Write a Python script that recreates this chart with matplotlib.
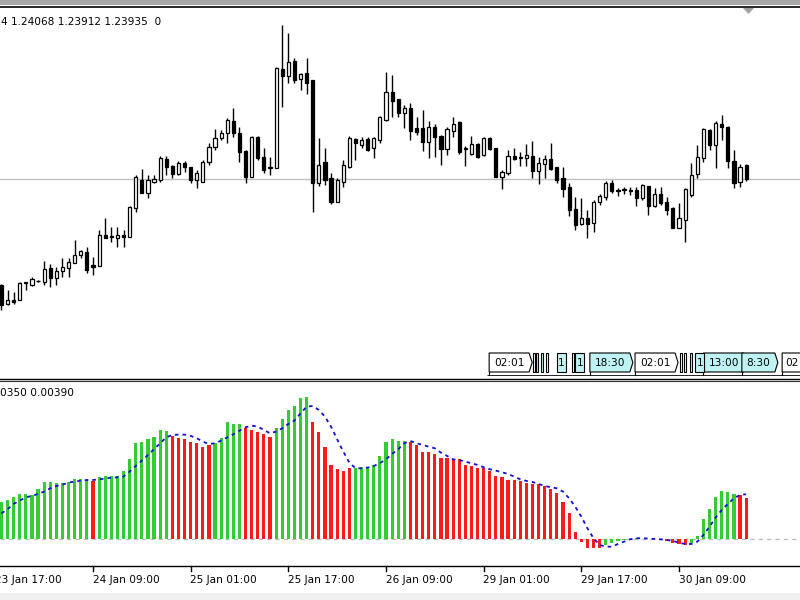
import matplotlib
matplotlib.use("Agg")
import matplotlib.pyplot as plt
from matplotlib.patches import Rectangle, Polygon
from matplotlib.transforms import blended_transform_factory
from matplotlib.lines import Line2D

# ---------------- data (H1 candles) ----------------
opens = [1.2288, 1.2269, 1.2273, 1.2273, 1.2290, 1.2288, 1.2292, 1.2291, 1.2305, 1.2295,
         1.2302, 1.2305, 1.2310, 1.2318, 1.2321, 1.2308, 1.2307, 1.2338, 1.2337, 1.2335,
         1.2338, 1.2336, 1.2365, 1.2393, 1.2380, 1.2391, 1.2393, 1.2414, 1.2407, 1.2399,
         1.2410, 1.2406, 1.2393, 1.2391, 1.2411, 1.2426, 1.2435, 1.2440, 1.2452, 1.2440,
         1.2422, 1.2396, 1.2436, 1.2416, 1.2406, 1.2405, 1.2504, 1.2497, 1.2512, 1.2494,
         1.2500, 1.2493, 1.2390, 1.2411, 1.2395, 1.2371, 1.2391, 1.2406, 1.2434, 1.2428,
         1.2434, 1.2425, 1.2433, 1.2453, 1.2481, 1.2474, 1.2460, 1.2465, 1.2445, 1.2445,
         1.2431, 1.2446, 1.2437, 1.2424, 1.2442, 1.2451, 1.2424, 1.2419, 1.2429, 1.2418,
         1.2435, 1.2425, 1.2396, 1.2400, 1.2417, 1.2416, 1.2415, 1.2417, 1.2402, 1.2409,
         1.2414, 1.2406, 1.2395, 1.2386, 1.2364, 1.2349, 1.2355, 1.2350, 1.2371, 1.2376,
         1.2390, 1.2383, 1.2383, 1.2383, 1.2383, 1.2375, 1.2387, 1.2367, 1.2379, 1.2371,
         1.2365, 1.2345, 1.2353, 1.2378, 1.2399, 1.2415, 1.2443, 1.2428, 1.2449, 1.2446,
         1.2412, 1.2391, 1.2408]
highs = [1.2289, 1.2283, 1.2281, 1.2291, 1.2291, 1.2296, 1.2293, 1.2312, 1.2309, 1.2306,
         1.2315, 1.2315, 1.2333, 1.2323, 1.2326, 1.2316, 1.2343, 1.2355, 1.2346, 1.2346,
         1.2343, 1.2367, 1.2398, 1.2404, 1.2398, 1.2398, 1.2417, 1.2417, 1.2408, 1.2412,
         1.2412, 1.2406, 1.2403, 1.2413, 1.2430, 1.2444, 1.2443, 1.2455, 1.2465, 1.2446,
         1.2423, 1.2437, 1.2437, 1.2425, 1.2416, 1.2506, 1.2548, 1.2540, 1.2515, 1.2500,
         1.2515, 1.2493, 1.2435, 1.2425, 1.2400, 1.2395, 1.2413, 1.2437, 1.2435, 1.2436,
         1.2436, 1.2436, 1.2457, 1.2501, 1.2498, 1.2474, 1.2468, 1.2470, 1.2456, 1.2463,
         1.2452, 1.2449, 1.2438, 1.2446, 1.2456, 1.2452, 1.2427, 1.2437, 1.2430, 1.2436,
         1.2436, 1.2425, 1.2403, 1.2423, 1.2425, 1.2421, 1.2429, 1.2432, 1.2416, 1.2418,
         1.2430, 1.2406, 1.2406, 1.2390, 1.2376, 1.2375, 1.2363, 1.2373, 1.2379, 1.2392,
         1.2393, 1.2385, 1.2386, 1.2386, 1.2386, 1.2389, 1.2387, 1.2385, 1.2386, 1.2376,
         1.2366, 1.2370, 1.2385, 1.2410, 1.2428, 1.2445, 1.2444, 1.2452, 1.2458, 1.2447,
         1.2423, 1.2409, 1.2409]
lows = [1.2263, 1.2268, 1.2269, 1.2273, 1.2283, 1.2287, 1.2291, 1.2288, 1.2286, 1.2288,
        1.2296, 1.2296, 1.2310, 1.2315, 1.2300, 1.2298, 1.2307, 1.2335, 1.2331, 1.2326,
        1.2326, 1.2336, 1.2361, 1.2380, 1.2375, 1.2390, 1.2391, 1.2398, 1.2395, 1.2398,
        1.2401, 1.2390, 1.2385, 1.2391, 1.2408, 1.2423, 1.2433, 1.2430, 1.2436, 1.2411,
        1.2390, 1.2396, 1.2413, 1.2400, 1.2398, 1.2405, 1.2466, 1.2490, 1.2490, 1.2483,
        1.2479, 1.2361, 1.2387, 1.2388, 1.2369, 1.2371, 1.2386, 1.2405, 1.2413, 1.2425,
        1.2422, 1.2415, 1.2430, 1.2452, 1.2456, 1.2456, 1.2445, 1.2433, 1.2438, 1.2422,
        1.2415, 1.2416, 1.2408, 1.2418, 1.2436, 1.2419, 1.2407, 1.2418, 1.2415, 1.2417,
        1.2423, 1.2396, 1.2384, 1.2398, 1.2413, 1.2407, 1.2407, 1.2395, 1.2389, 1.2395,
        1.2403, 1.2390, 1.2376, 1.2357, 1.2343, 1.2348, 1.2335, 1.2341, 1.2368, 1.2373,
        1.2380, 1.2377, 1.2379, 1.2378, 1.2367, 1.2373, 1.2358, 1.2366, 1.2368, 1.2358,
        1.2345, 1.2345, 1.2331, 1.2376, 1.2395, 1.2411, 1.2423, 1.2405, 1.2433, 1.2405,
        1.2385, 1.2386, 1.2392]
closes = [1.2268, 1.2273, 1.2271, 1.2290, 1.2291, 1.2294, 1.2292, 1.2304, 1.2295, 1.2302,
          1.2306, 1.2311, 1.2318, 1.2322, 1.2303, 1.2306, 1.2338, 1.2335, 1.2336, 1.2338,
          1.2336, 1.2366, 1.2396, 1.2380, 1.2393, 1.2394, 1.2415, 1.2406, 1.2399, 1.2410,
          1.2406, 1.2393, 1.2400, 1.2411, 1.2426, 1.2435, 1.2440, 1.2453, 1.2440, 1.2421,
          1.2396, 1.2436, 1.2415, 1.2403, 1.2405, 1.2505, 1.2497, 1.2511, 1.2493, 1.2499,
          1.2490, 1.2390, 1.2408, 1.2393, 1.2371, 1.2393, 1.2408, 1.2435, 1.2430, 1.2433,
          1.2423, 1.2435, 1.2456, 1.2481, 1.2472, 1.2460, 1.2465, 1.2442, 1.2441, 1.2431,
          1.2446, 1.2436, 1.2424, 1.2444, 1.2449, 1.2421, 1.2425, 1.2429, 1.2416, 1.2435,
          1.2424, 1.2396, 1.2401, 1.2417, 1.2414, 1.2415, 1.2418, 1.2402, 1.2410, 1.2414,
          1.2404, 1.2393, 1.2384, 1.2363, 1.2348, 1.2355, 1.2349, 1.2371, 1.2377, 1.2390,
          1.2382, 1.2382, 1.2384, 1.2382, 1.2375, 1.2388, 1.2367, 1.2379, 1.2370, 1.2363,
          1.2345, 1.2355, 1.2384, 1.2398, 1.2416, 1.2444, 1.2428, 1.2450, 1.2446, 1.2412,
          1.2390, 1.2406, 1.2394]

# ---------------- indicator ----------------
hist = [0.00322, 0.00336, 0.00365, 0.00388, 0.00388, 0.00379, 0.00428, 0.00493, 0.00493, 0.00479,
        0.00479, 0.00493, 0.00519, 0.00513, 0.00507, 0.00502, 0.00530, 0.00544, 0.00544, 0.00542,
        0.00584, 0.00687, 0.00821, 0.00829, 0.00855, 0.00872, 0.00935, 0.00926, 0.00884, 0.00869,
        0.00858, 0.00832, 0.00821, 0.00792, 0.00807, 0.00827, 0.00869, 0.01000, 0.00986, 0.00986,
        0.00949, 0.00935, 0.00921, 0.00901, 0.00872, 0.00949, 0.01026, 0.01106, 0.01143, 0.01206,
        0.01220, 0.01003, 0.00921, 0.00792, 0.00636, 0.00599, 0.00587, 0.00613, 0.00607, 0.00621,
        0.00616, 0.00636, 0.00713, 0.00829, 0.00858, 0.00844, 0.00841, 0.00835, 0.00807, 0.00744,
        0.00744, 0.00730, 0.00693, 0.00693, 0.00678, 0.00684, 0.00636, 0.00627, 0.00613, 0.00613,
        0.00587, 0.00544, 0.00530, 0.00507, 0.00507, 0.00499, 0.00479, 0.00470, 0.00470, 0.00456,
        0.00428, 0.00393, 0.00322, 0.00222, 0.00066, -0.00023, -0.00077, -0.00077, -0.00077, -0.00048,
        -0.00029, -0.00011, -0.00006, 0.00006, 0.00009, 0.00006, 0.00003, 0.00000, -0.00003, -0.00011,
        -0.00034, -0.00040, -0.00048, -0.00029, 0.00029, 0.00171, 0.00259, 0.00365, 0.00416, 0.00402,
        0.00388, 0.00379, 0.00351]
hist_color_codes = ("GGGGGGGGGGGGGGG" "R" "GGGGGGGGGGGG" "RRRRRRR" "GGGGG" "RRRRR" "GGGGGG"
                    "RRRRRRR" "GGGGGGGGG" "RRRRRRRRRRRRRRRRRRRRRRRRRRRRRRRR" "GGGGGG"
                    "RRRRRRRR" "GGGGGGGG" "RR")
signal = [0.00222, 0.00257, 0.00302, 0.00331, 0.00359, 0.00371, 0.00388, 0.00408, 0.00436, 0.00456,
          0.00467, 0.00485, 0.00493, 0.00502, 0.00507, 0.00507, 0.00513, 0.00519, 0.00527, 0.00530,
          0.00536, 0.00579, 0.00627, 0.00673, 0.00721, 0.00770, 0.00821, 0.00872, 0.00892, 0.00895,
          0.00895, 0.00884, 0.00864, 0.00835, 0.00815, 0.00821, 0.00844, 0.00872, 0.00898, 0.00929,
          0.00958, 0.00972, 0.00963, 0.00935, 0.00906, 0.00921, 0.00949, 0.00986, 0.01015, 0.01077,
          0.01134, 0.01140, 0.01106, 0.01049, 0.00963, 0.00855, 0.00750, 0.00656, 0.00607, 0.00607,
          0.00613, 0.00627, 0.00650, 0.00684, 0.00730, 0.00770, 0.00821, 0.00841, 0.00821, 0.00807,
          0.00792, 0.00778, 0.00741, 0.00713, 0.00684, 0.00678, 0.00664, 0.00650, 0.00636, 0.00616,
          0.00599, 0.00587, 0.00573, 0.00559, 0.00536, 0.00513, 0.00499, 0.00490, 0.00473, 0.00456,
          0.00445, 0.00436, 0.00408, 0.00351, 0.00279, 0.00194, 0.00094, 0.00009, -0.00048, -0.00063,
          -0.00063, -0.00040, -0.00020, 0.00000, 0.00009, 0.00009, 0.00006, 0.00003, 0.00000, -0.00006,
          -0.00014, -0.00029, -0.00040, -0.00040, -0.00020, 0.00037, 0.00108, 0.00185, 0.00251, 0.00302,
          0.00351, 0.00379, 0.00385]

# time axis labels (bar index of each label)
tick_idx = [-1, 15, 31, 47, 63, 79, 95, 111]
tick_labels = ["23 Jan 17:00", "24 Jan 09:00", "25 Jan 01:00", "25 Jan 17:00",
               "26 Jan 09:00", "29 Jan 01:00", "29 Jan 17:00", "30 Jan 09:00"]

# calendar event markers (bar index, text, highlighted)
ev_idx = [79.9, 96.4, 103.8, 115.0, 121.3, 127.9]
ev_text = ["02:01", "18:30", "02:01", "13:00", "8:30", "02"]
ev_hl = [False, True, False, True, True, False]
ev_small_idx = [87.1, 87.6, 88.4, 89.2, 91.0, 93.5, 94.0, 111.2, 111.8, 112.8, 113.7]
ev_small_text = ["", "", "", "", "1", "", "1", "", "", "", "1"]
ev_small_hl = [False, True, True, False, True, False, True, False, False, True, True]

header_top = "4 1.24068 1.23912 1.23935  0"
header_bottom = "0350 0.00390"

# ---------------- figure ----------------
W, H = 800, 600
fig = plt.figure(figsize=(8, 6), dpi=100)
fig.patch.set_facecolor("white")
FONT = "DejaVu Sans"
FS = 7.6

BAR_PX = 6.104
X0_PX = 1.44
xlim = (-X0_PX / BAR_PX, (W - X0_PX) / BAR_PX)

def fy(ypx):
    return 1 - ypx / H

# top (price) panel
top_y0, top_y1 = 7, 379
ax1 = fig.add_axes([0, fy(top_y1), 1, (top_y1 - top_y0) / H])
# bottom (indicator) panel
bot_y0, bot_y1 = 381, 566
ax2 = fig.add_axes([0, fy(bot_y1), 1, (bot_y1 - bot_y0) / H])

for ax in (ax1, ax2):
    ax.set_xlim(*xlim)
    ax.set_xticks([])
    ax.set_yticks([])
    for s in ("left", "right", "top"):
        ax.spines[s].set_visible(False)
    ax.spines["bottom"].set_color("black")
    ax.spines["bottom"].set_linewidth(1.0)
    ax.set_facecolor("white")
ax2.spines["top"].set_visible(True)
ax2.spines["top"].set_color("#303030")

# price scale: 1 px ~ 0.0001
ax1.set_ylim(1.2573 - top_y1 * 0.0001, 1.2573 - top_y0 * 0.0001)

n = len(closes)
idx = list(range(n))

# bid line
ax1.axhline(closes[-1], color="#C0C0C0", lw=1.0, zorder=1)

# candles
ax1.vlines(idx, lows, highs, color="black", lw=1.0, zorder=2)
bw = 0.52
for i in idx:
    o, c = opens[i], closes[i]
    lo, hi = min(o, c), max(o, c)
    if abs(c - o) < 1e-9:
        ax1.hlines(o, i - bw / 2, i + bw / 2, color="black", lw=1.0, zorder=3)
        continue
    face = "white" if c > o else "black"
    ax1.add_patch(Rectangle((i - bw / 2, lo), bw, hi - lo, facecolor=face,
                            edgecolor="black", lw=0.9, zorder=3))

# event markers along the bottom of the price panel
tr = blended_transform_factory(ax1.transData, ax1.transAxes)
panel_h = top_y1 - top_y0
yb = (top_y1 - 372) / panel_h
yt = (top_y1 - 353) / panel_h
ybase = (top_y1 - 375) / panel_h
cyan = "#BFF3F3"
for x, t, hl in zip(ev_idx, ev_text, ev_hl):
    wpx = 7.0 * len(t) + 5
    w = wpx / BAR_PX
    tip = 3.0 / BAR_PX
    poly = Polygon([(x, yb), (x, yt), (x + w, yt), (x + w + tip, (yb + yt) / 2), (x + w, yb)],
                   closed=True, transform=tr, facecolor=cyan if hl else "white",
                   edgecolor="black", lw=0.8, zorder=5, clip_on=False)
    ax1.add_patch(poly)
    ax1.add_line(Line2D([x, x], [ybase, yb], transform=tr, color="black", lw=0.8, zorder=5))
    ax1.text(x + w / 2 + 0.05, (yb + yt) / 2, t, transform=tr, ha="center", va="center",
             fontsize=FS, family=FONT, zorder=6)
for x, t, hl in zip(ev_small_idx, ev_small_text, ev_small_hl):
    wpx = 9 if t else 2.2
    w = wpx / BAR_PX
    ax1.add_patch(Rectangle((x, yb), w, yt - yb, transform=tr,
                            facecolor=cyan if hl else "white", edgecolor="black",
                            lw=0.8, zorder=5))
    if t:
        ax1.text(x + w / 2, (yb + yt) / 2, t, transform=tr, ha="center", va="center",
                 fontsize=FS, family=FONT, zorder=6)
ax1.hlines(ybase, 79.5, xlim[1], transform=tr, color="black", lw=0.6, zorder=4)

# indicator panel
per_px = 0.0000855
zero_px = 539.3
ax2.set_ylim(-(bot_y1 - zero_px) * per_px, (zero_px - bot_y0) * per_px)
ax2.axhline(0, color="#BDBDBD", lw=1.0, ls=(0, (3, 3)), zorder=1)
cmap = {"G": "#33CC33", "R": "#FF1A1A"}
colors = [cmap[c] for c in hist_color_codes]
ax2.bar(idx, hist, width=0.52, color=colors, zorder=2, linewidth=0)
ax2.plot(idx, signal, color="#1010D0", lw=1.3, ls=(0, (2.0, 2.2)), zorder=3)

# time axis
trx = blended_transform_factory(ax2.transData, ax2.transAxes)
for ti, lab in zip(tick_idx, tick_labels):
    ax2.add_line(Line2D([ti, ti], [-0.0, -0.028], transform=trx,
                        color="black", lw=1.0, clip_on=False))
    ax2.text(ti - 0.05, -0.075, lab, transform=trx,
             ha="left", va="center", fontsize=FS, family=FONT, clip_on=False)

# headers
fig.text(1 / W, fy(22), header_top, ha="left", va="center", fontsize=FS, family=FONT)
fig.text(0 / W, fy(393), header_bottom, ha="left", va="center", fontsize=FS, family=FONT)

# window chrome
fig.add_artist(Rectangle((0, fy(4.5)), 1, 4.5 / H, transform=fig.transFigure,
                         facecolor="#A8A8A8", edgecolor="none"))
fig.add_artist(Line2D([0, 1], [fy(6.5), fy(6.5)], transform=fig.transFigure, color="black", lw=1.2))
fig.add_artist(Polygon([(743 / W, fy(8)), (754 / W, fy(8)), (748.5 / W, fy(14))], closed=True,
                       transform=fig.transFigure, facecolor="#A0A0A0", edgecolor="none"))
fig.add_artist(Rectangle((0, 0), 1, 7 / H, transform=fig.transFigure,
                         facecolor="#F0F0F0", edgecolor="none"))

fig.savefig("out.png", dpi=100)
